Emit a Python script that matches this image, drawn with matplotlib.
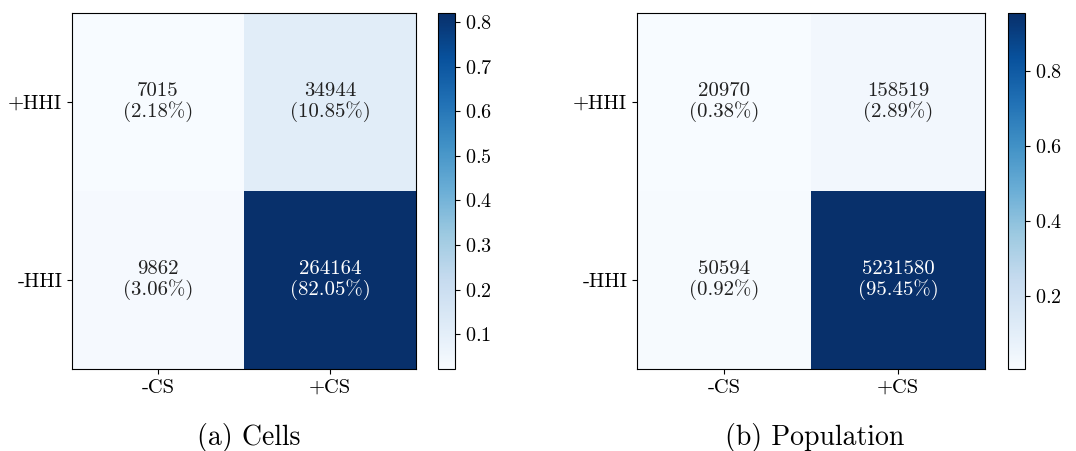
import numpy as np
import matplotlib
matplotlib.use('Agg')
import matplotlib.pyplot as plt

plt.rcParams['font.family'] = 'cmr10'
plt.rcParams['mathtext.fontset'] = 'cm'
plt.rcParams['axes.formatter.use_mathtext'] = True

# data
row_labels = ['+HHI', '-HHI']
col_labels = ['-CS', '+CS']
cells_counts = [[7015, 34944], [9862, 264164]]
cells_pct = [[2.18, 10.85], [3.06, 82.05]]
pop_counts = [[20970, 158519], [50594, 5231580]]
pop_pct = [[0.38, 2.89], [0.92, 95.45]]
captions = ['(a) Cells', '(b) Population']

fig = plt.figure(figsize=(10.76, 4.51), dpi=100)
W, H = 1076, 451

def px(x0, y0, x1, y1):
    return [x0 / W, 1 - y1 / H, (x1 - x0) / W, (y1 - y0) / H]

panels = [
    (cells_counts, cells_pct, px(72, 13, 416, 369), px(438, 13, 455, 369), 249),
    (pop_counts, pop_pct, px(637, 13, 985, 369), px(1008, 13, 1025, 369), 815),
]

for i, (counts, pct, apos, cpos, cx) in enumerate(panels):
    vals = np.array(pct) / 100.0
    ax = fig.add_axes(apos)
    cax = fig.add_axes(cpos)
    im = ax.imshow(vals, cmap='Blues', aspect='auto')
    cb = fig.colorbar(im, cax=cax)
    cb.ax.tick_params(labelsize=14.5)
    cb.outline.set_linewidth(0.8)
    thresh = (vals.max() + vals.min()) / 2
    for r in range(2):
        for c in range(2):
            color = 'white' if vals[r, c] > thresh else '#222222'
            ax.text(c, r, '%d\n(%.2f%%)' % (counts[r][c], pct[r][c]),
                    ha='center', va='center', fontsize=15,
                    color=color, linespacing=1.1)
    ax.set_xticks(range(2))
    ax.set_xticklabels(col_labels, fontsize=14.8)
    ax.set_yticks(range(2))
    ax.set_yticklabels(row_labels, fontsize=14.8)
    fig.text(cx / W, 1 - 437 / H, captions[i], ha='center', va='center', fontsize=20)

fig.savefig('out.png', dpi=100)
